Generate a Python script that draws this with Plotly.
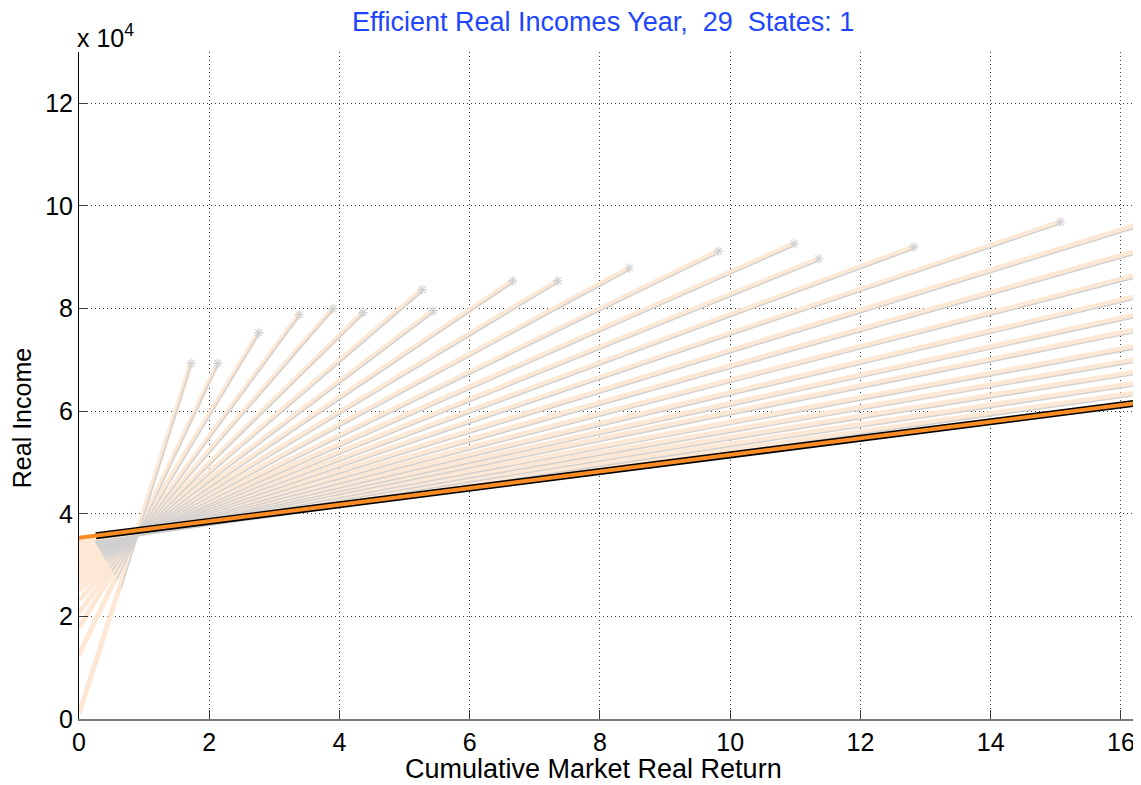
import plotly.graph_objects as go

# --- data (y in real-income units) ---
# fan of efficient-income lines: start at x=0, end points
fan_y_start = [1000, 12500, 17800, 20700, 23100, 25000, 26400, 27600, 28500, 29300,
               30000, 30600, 31200, 31600, 32000, 32300, 32700, 33000, 33200, 33500,
               33700, 33900, 34100, 34200, 34400, 34500, 34600]
fan_x_end = [1.72, 2.13, 2.76, 3.38, 3.90, 4.36, 5.27, 5.44, 6.66, 7.35, 8.45, 9.82, 10.98,
             11.36, 12.82, 15.07, 16.2, 16.2, 16.2, 16.2, 16.2, 16.2, 16.2, 16.2, 16.2,
             16.2, 16.2]
fan_y_end = [69300, 69300, 75300, 78800, 80000, 79200, 83700, 79600, 85400, 85400, 87900,
             91200, 92600, 89700, 92000, 96900, 96100, 91050, 86400, 82300, 78700, 75800,
             72600, 70000, 67600, 65400, 63500]
# gray (actual) curves: start and end points
gray_x_start = [0.65, 0.58, 0.54, 0.50, 0.47, 0.45, 0.43, 0.41, 0.39, 0.375, 0.36, 0.35,
                0.336, 0.326, 0.317, 0.308, 0.30, 0.29, 0.284, 0.278, 0.272, 0.267, 0.262,
                0.258, 0.254, 0.251, 0.248]
gray_y_start = [25600, 27100, 28100, 28800, 29400, 30100, 30600, 31000, 31300, 31700,
                32000, 32300, 32500, 32800, 33000, 33200, 33400, 33500, 33700, 33800,
                34000, 34100, 34200, 34300, 34400, 34500, 34600]
gray_y_end = [69000, 69000, 75000, 78500, 79700, 78900, 83300, 79200, 85000, 85000, 87500,
              90800, 92200, 89300, 91600, 96500, 95600, 90550, 85900, 81800, 78200, 75300,
              72100, 69500, 67100, 64900, 63000]
n_ended = 16  # lines whose end point lies inside the plot

# highlighted efficient line
main_x = [0.0, 16.2]
main_y = [35300, 61500]
black_x = [0.26, 16.2]
black_y = [35700, 61500]

x_ticks = [0, 2, 4, 6, 8, 10, 12, 14, 16]
y_ticks = [0, 20000, 40000, 60000, 80000, 100000, 120000]
y_tick_text = ["0", "2", "4", "6", "8", "10", "12"]

ORANGE_LIGHT = "rgb(253,232,214)"
GRAY = "rgb(208,208,208)"
FONT = "Liberation Sans, Arial, sans-serif"

fig = go.Figure()

for i in range(len(fan_y_start)):
    fig.add_trace(go.Scatter(
        x=[0.0, fan_x_end[i]], y=[fan_y_start[i], fan_y_end[i]],
        mode="lines", line=dict(color=ORANGE_LIGHT, width=5),
        hoverinfo="skip", showlegend=False))

for i in range(len(gray_x_start)):
    fig.add_trace(go.Scatter(
        x=[gray_x_start[i], fan_x_end[i]], y=[gray_y_start[i], gray_y_end[i]],
        mode="lines", line=dict(color=GRAY, width=1.4),
        hoverinfo="skip", showlegend=False))

# end markers
fig.add_trace(go.Scatter(
    x=fan_x_end[:n_ended], y=fan_y_end[:n_ended], mode="markers",
    marker=dict(symbol="asterisk-open", size=8, color="rgb(210,210,210)",
                line=dict(color="rgb(210,210,210)", width=1.2)),
    hoverinfo="skip", showlegend=False))

fig.add_trace(go.Scatter(x=black_x, y=black_y, mode="lines",
                         line=dict(color="black", width=7), showlegend=False))
fig.add_trace(go.Scatter(x=main_x, y=main_y, mode="lines",
                         line=dict(color="rgb(250,140,35)", width=4), showlegend=False))

# the page body adds an 8px margin, so the figure is 8px smaller on each side
fig.update_layout(
    width=1133, height=777,
    margin=dict(l=71, r=7, t=44, b=66, autoexpand=False),
    plot_bgcolor="white", paper_bgcolor="white",
    font=dict(family=FONT, size=25, color="black"),
    showlegend=False,
)
fig.update_xaxes(
    range=[0, 16.2], tickvals=x_ticks, ticks="inside", ticklen=9, automargin=False,
    tickcolor="rgb(60,60,60)", showline=True, linecolor="rgb(120,120,120)", linewidth=2,
    showgrid=True, gridcolor="rgb(60,60,60)", griddash="1px,3px", gridwidth=1,
    zeroline=False, tickfont=dict(size=25),
)
fig.update_yaxes(
    range=[0, 130000], tickvals=y_ticks, ticktext=y_tick_text, ticks="inside", ticklen=9,
    automargin=False,
    tickcolor="rgb(60,60,60)", showline=True, linecolor="black", linewidth=1,
    showgrid=True, gridcolor="rgb(60,60,60)", griddash="1px,3px", gridwidth=1,
    zeroline=False, tickfont=dict(size=25),
)
# title
fig.add_annotation(xref="paper", yref="paper", x=0.497, y=1, yanchor="middle", xanchor="center",
                   yshift=30, showarrow=False,
                   text="Efficient Real Incomes Year,  29  States: 1",
                   font=dict(size=27, color="rgb(30,70,255)"))
# axis titles
fig.add_annotation(xref="paper", yref="paper", x=0.488, y=0, yanchor="middle", xanchor="center",
                   yshift=-50, showarrow=False, text="Cumulative Market Real Return",
                   font=dict(size=27))
fig.add_annotation(xref="paper", yref="paper", x=0, y=0.451, yanchor="middle", xanchor="center",
                   xshift=-57, showarrow=False, text="Real Income", textangle=-90,
                   font=dict(size=25))
fig.add_annotation(xref="paper", yref="paper", x=0, y=1, xanchor="left", yanchor="bottom",
                   text="x 10<sup>4</sup>", showarrow=False, font=dict(size=25),
                   xshift=-4, yshift=-2)

fig.write_html("out.html")
